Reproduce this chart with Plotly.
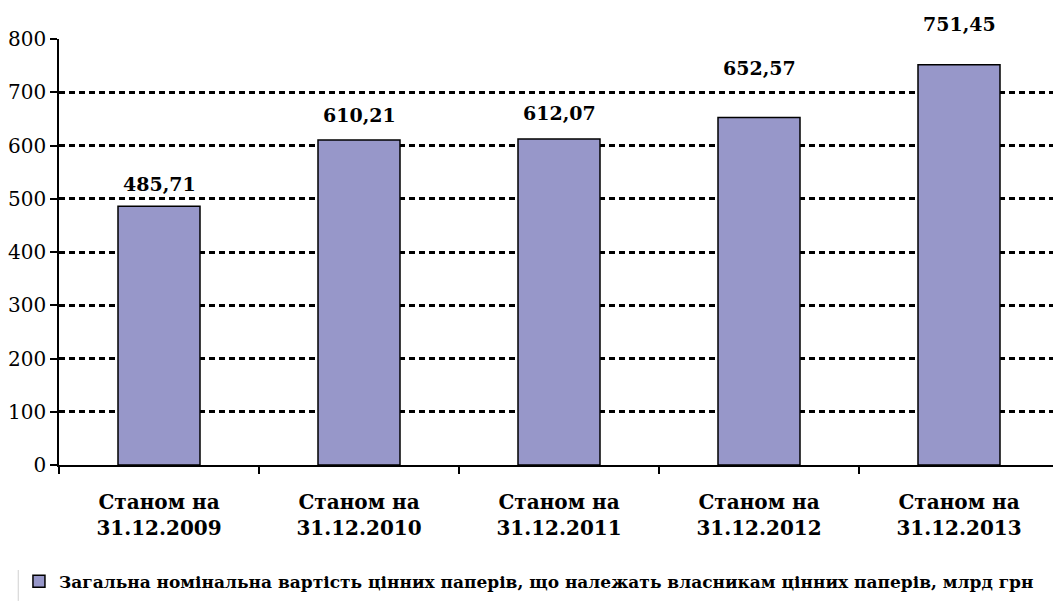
import plotly.graph_objects as go

categories = ["Станом на<br>31.12.2009", "Станом на<br>31.12.2010", "Станом на<br>31.12.2011",
              "Станом на<br>31.12.2012", "Станом на<br>31.12.2013"]
values = [485.71, 610.21, 612.07, 652.57, 751.45]
label_shift = [22, 25, 26, 50, 41]
series_name = "Загальна номінальна вартість цінних паперів, що належать власникам цінних паперів, млрд грн"
y_ticks = [0, 100, 200, 300, 400, 500, 600, 700, 800]

FONT = "DejaVu Serif"

fig = go.Figure()
fig.add_trace(go.Bar(
    x=categories, y=values, name=f"<b>{series_name}</b>", width=0.41,
    marker=dict(color="#9797C9", line=dict(color="black", width=1.5)),
    showlegend=True,
))

for c, v, s in zip(categories, values, label_shift):
    fig.add_annotation(x=c, y=v, yshift=s, text=f"<b>{v:.2f}</b>".replace(".", ","),
                       showarrow=False, yanchor="middle",
                       font=dict(family=FONT, size=19, color="black"))

fig.add_shape(type="line", xref="paper", yref="paper", x0=-0.041, x1=-0.041, y0=-0.2465, y1=-0.319,
              line=dict(color="#d0d0d0", width=1))

fig.update_layout(
    width=1053, height=601,
    margin=dict(l=59, r=0, t=39, b=136, autoexpand=False),
    plot_bgcolor="white", paper_bgcolor="white",
    font=dict(family=FONT, color="black"),
    xaxis=dict(
        range=[-0.5, 4.47], showline=True, linecolor="black", linewidth=1.5,
        ticks="outside", tickson="boundaries", ticklen=7, tickcolor="black", tickwidth=1.5,
        tickfont=dict(family=FONT, size=20, color="black"),
        tickvals=categories, ticktext=[f"<b>{c}</b>" for c in categories],
        ticklabelstandoff=18, showgrid=False,
    ),
    yaxis=dict(
        range=[0, 800], tickvals=y_ticks, showline=True, linecolor="black", linewidth=1.5,
        ticks="outside", ticklen=7, tickcolor="black", tickwidth=1.5,
        tickfont=dict(family=FONT, size=20, color="black"),
        showgrid=True, gridcolor="black", gridwidth=3, griddash="6px,4px",
        zeroline=False,
    ),
    legend=dict(
        orientation="h", xref="container", yref="container", x=0.018, y=0.032,
        xanchor="left", yanchor="middle",
        font=dict(family=FONT, size=17, color="black"),
        itemwidth=30,
    ),
)

fig.write_html("out.html", config={"displayModeBar": False},
               post_script="document.body.style.margin='0';")
